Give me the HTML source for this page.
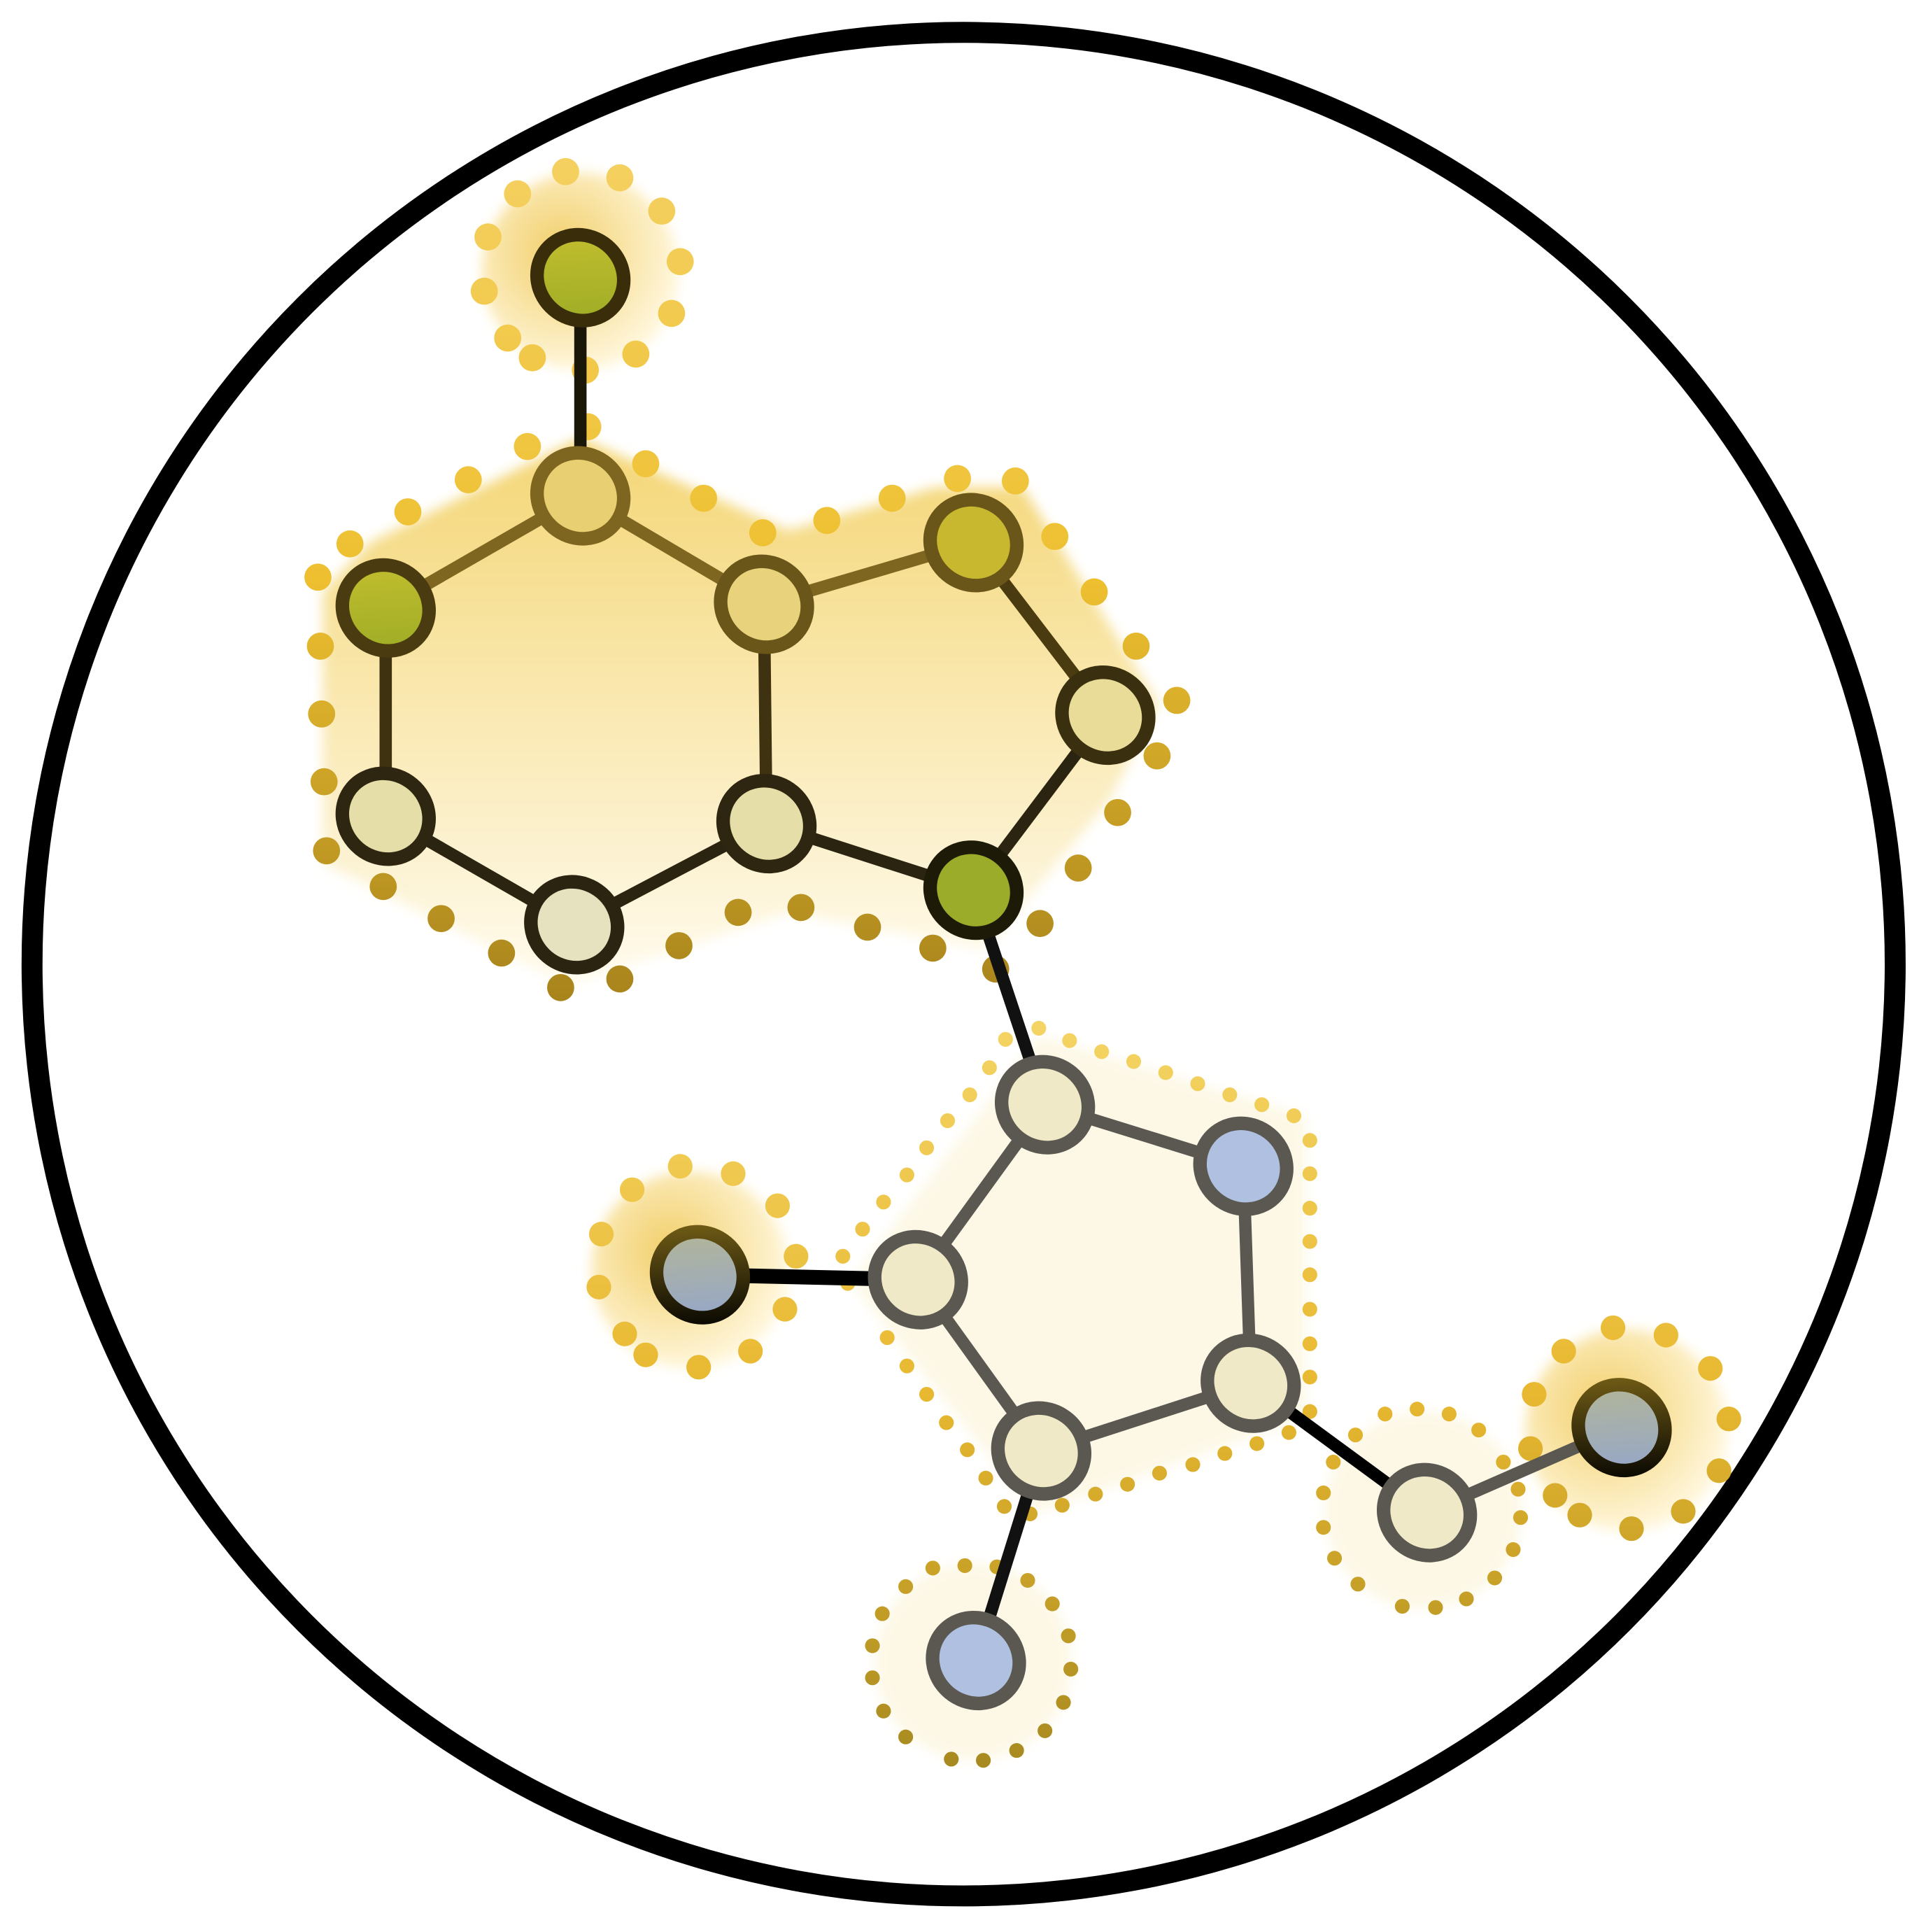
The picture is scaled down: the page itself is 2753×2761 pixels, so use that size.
<!DOCTYPE html>
<html><head><meta charset="utf-8"><style>
html,body{margin:0;padding:0;background:#fff;width:2753px;height:2761px;overflow:hidden}
svg{display:block}
</style></head><body>
<svg width="2753" height="2761" viewBox="0 0 1563 1567" xmlns="http://www.w3.org/2000/svg">
<defs>
<filter id="blur" x="-20%" y="-20%" width="140%" height="140%"><feGaussianBlur stdDeviation="5"/></filter>
<linearGradient id="ringGrad" x1="0" y1="0" x2="0" y2="1"><stop offset="0" stop-color="#f4d676"/><stop offset="1" stop-color="#fffbee"/></linearGradient>
<radialGradient id="halo" cx="0.4" cy="0.4" r="0.6"><stop offset="0" stop-color="#f2cf6a"/><stop offset="1" stop-color="#fff6da"/></radialGradient>
<linearGradient id="dotGrad" gradientUnits="userSpaceOnUse" x1="0" y1="130" x2="0" y2="810"><stop offset="0" stop-color="#f4d060"/><stop offset="0.5" stop-color="#eec030"/><stop offset="1" stop-color="#a8841c"/></linearGradient>
<linearGradient id="dotGrad2" gradientUnits="userSpaceOnUse" x1="0" y1="830" x2="0" y2="1430"><stop offset="0" stop-color="#f4d464"/><stop offset="0.5" stop-color="#e8b830"/><stop offset="1" stop-color="#a88a20"/></linearGradient>
<linearGradient id="olive" x1="0" y1="0" x2="1" y2="1"><stop offset="0" stop-color="#c8c030"/><stop offset="1" stop-color="#98aa24"/></linearGradient>
<linearGradient id="goldBlue" x1="0" y1="0" x2="1" y2="1"><stop offset="0" stop-color="#b8b890"/><stop offset="1" stop-color="#90a4d0"/></linearGradient>
<linearGradient id="goldStroke" x1="0" y1="0" x2="1" y2="1"><stop offset="0" stop-color="#7a6418"/><stop offset="1" stop-color="#000"/></linearGradient>
</defs>
<circle cx="782" cy="782" r="756" fill="#fff" stroke="#000" stroke-width="17"/>

<g filter="url(#blur)">
<polygon points="471,355 300,440 262,480 262,700 460,800 640,740 800,770 900,650 940,570 830,395 760,395 640,430" fill="url(#ringGrad)"/>
<circle cx="471" cy="220" r="80" fill="url(#halo)"/>
<polygon points="843,840 1060,905 1060,1150 840,1228 690,1040" fill="#fdf8e6"/>
<circle cx="560" cy="1030" r="80" fill="url(#halo)"/>
<circle cx="1320" cy="1160" r="82" fill="url(#halo)"/>
<circle cx="1155" cy="1225" r="80" fill="#fdf8e6"/>
<circle cx="790" cy="1348" r="80" fill="#fdf8e6"/>
</g>

<g id="dots"></g>
<g id="bonds"></g>
<g id="nodes"></g>
</svg>
<script>
const NS='http://www.w3.org/2000/svg';
const nodes={
A0:[471,225,'url(#olive)','#3a2e0a'],A1:[471,402,'#e8cf72','#7e6620'],A2:[313,493,'url(#olive)','#4a3c10'],
A3:[313,662,'#e6dea8','#2e2610'],A4:[466,750,'#e6e2c0','#2a2410'],A5:[622,668,'#e6dea8','#2e2610'],
A6:[620,490,'#e8d27c','#6a5618'],A7:[790,440,'#c8b830','#6a5618'],A8:[897,580,'#e8dc98','#3a3010'],
A9:[790,722,'#9aac2a','#1e1a08'],
B1:[848,896,'#efe9c8','#5a5850'],B2:[1009,946,'#b0c0e0','#5a5850'],B3:[1015,1122,'#efe9c8','#5a5850'],
B4:[845,1177,'#efe9c8','#5a5850'],B5:[745,1038,'#efe9c8','#5a5850'],B6:[568,1034,'url(#goldBlue)','url(#goldStroke)'],
B7:[1158,1227,'#efe9c8','#5a5850'],B8:[1316,1158,'url(#goldBlue)','url(#goldStroke)'],B9:[792,1347,'#b0c0e0','#5a5850']};
const bonds=[['A0','A1','#1a1608',10],['A1','A2','#7e6620',10],['A2','A3','#3e3210',10],['A3','A4','#2a2410',10],['A4','A5','#2a2410',10],
['A5','A6','#3e3210',10],['A6','A1','#7e6620',10],['A6','A7','#7e6620',10],['A7','A8','#4a3c10',10],['A8','A9','#2a2410',10],
['A9','A5','#2a2410',10],['A9','B1','#111',10],['B1','B2','#5a5850',10],['B2','B3','#5a5850',10],['B3','B4','#5a5850',10],
['B4','B5','#5a5850',10],['B5','B1','#5a5850',10],['B5','B6','#000',12],['B3','B7','#000',10],['B7','B8','#5a5850',10],['B4','B9','#111',10]];
const bigDots=[[459,139],[503,144],[537,171],[552,212],[545,254],[516,287],[475,300],[432,290],[412,274],[393,236],[396,192],[420,157],
[477,346],[428,362],[380,389],[331,415],[284,441],[258,468],[260,524],[261,579],[263,634],[265,690],[311,719],[358,745],[407,773],[455,801],[503,794],[551,767],[599,740],[650,736],[704,752],[757,769],[808,786],[844,749],[875,704],[907,659],[939,613],[955,568],[922,524],[888,480],[856,435],[824,390],[777,388],[724,404],[671,422],[619,432],[571,404],[524,376]];
const midDots=[[552,946],[595,952],[631,978],[646,1019],[637,1062],[609,1096],[567,1109],[524,1099],[507,1082],[486,1044],[488,1001],[513,965],
[1309,1077],[1352,1083],[1388,1110],[1403,1151],[1395,1193],[1366,1226],[1324,1240],[1282,1229],[1262,1213],[1242,1175],[1245,1131],[1269,1096]];
const smallDots=[[816,843],[843,834],[868,844],[894,853],[920,861],[946,870],[972,879],[998,888],[1024,896],[1050,905],[1063,925],[1063,952],[1063,980],[1063,1007],[1063,1034],[1063,1062],[1063,1090],[1063,1117],[1063,1145],[1046,1162],[1020,1171],[994,1179],[968,1188],[941,1195],[915,1204],[889,1212],[862,1221],[836,1228],[815,1222],[800,1199],[785,1176],[768,1154],[752,1131],[736,1108],[720,1085],[688,1041],[684,1019],[700,997],[717,975],[736,953],[752,931],[769,909],[787,888],[803,866],
[1100,1164],[1124,1147],[1150,1143],[1176,1147],[1200,1160],[1220,1186],[1232,1208],[1234,1231],[1228,1257],[1213,1280],[1190,1297],[1165,1304],[1138,1303],[1102,1285],[1083,1264],[1074,1239],[1074,1211],[1082,1186],
[757,1272],[783,1270],[809,1271],[834,1282],[854,1301],[867,1327],[869,1354],[863,1381],[848,1404],[825,1420],[798,1428],[772,1427],[735,1409],[717,1388],[708,1361],[708,1335],[716,1309],[735,1287]];
const dg=document.getElementById('dots');
function dots(list,r,fill,name){list.forEach(p=>{const c=document.createElementNS(NS,'circle');
c.setAttribute('cx',p[0]);c.setAttribute('cy',p[1]);c.setAttribute('r',r);c.setAttribute('fill',fill);


dg.appendChild(c);});}
dots(bigDots,11,'url(#dotGrad)','halo-dot');
dots(midDots,10,'url(#dotGrad2)','halo-dot');
dots(smallDots,6,'url(#dotGrad2)','halo-dot-small');
const bg=document.getElementById('bonds');
bonds.forEach(b=>{const a=nodes[b[0]],c=nodes[b[1]];const l=document.createElementNS(NS,'line');
l.setAttribute('x1',a[0]);l.setAttribute('y1',a[1]);l.setAttribute('x2',c[0]);l.setAttribute('y2',c[1]);
l.setAttribute('stroke',b[2]);l.setAttribute('stroke-width',b[3]);


bg.appendChild(l);});
const ng=document.getElementById('nodes');
Object.keys(nodes).forEach(k=>{const n=nodes[k];const e=document.createElementNS(NS,'ellipse');
e.setAttribute('cx',n[0]);e.setAttribute('cy',n[1]);e.setAttribute('rx',36);e.setAttribute('ry',34);
e.setAttribute('transform','rotate(40 '+n[0]+' '+n[1]+')');
e.setAttribute('fill',n[2]);e.setAttribute('stroke',n[3]);e.setAttribute('stroke-width',11);


ng.appendChild(e);});
</script>
</body></html>
